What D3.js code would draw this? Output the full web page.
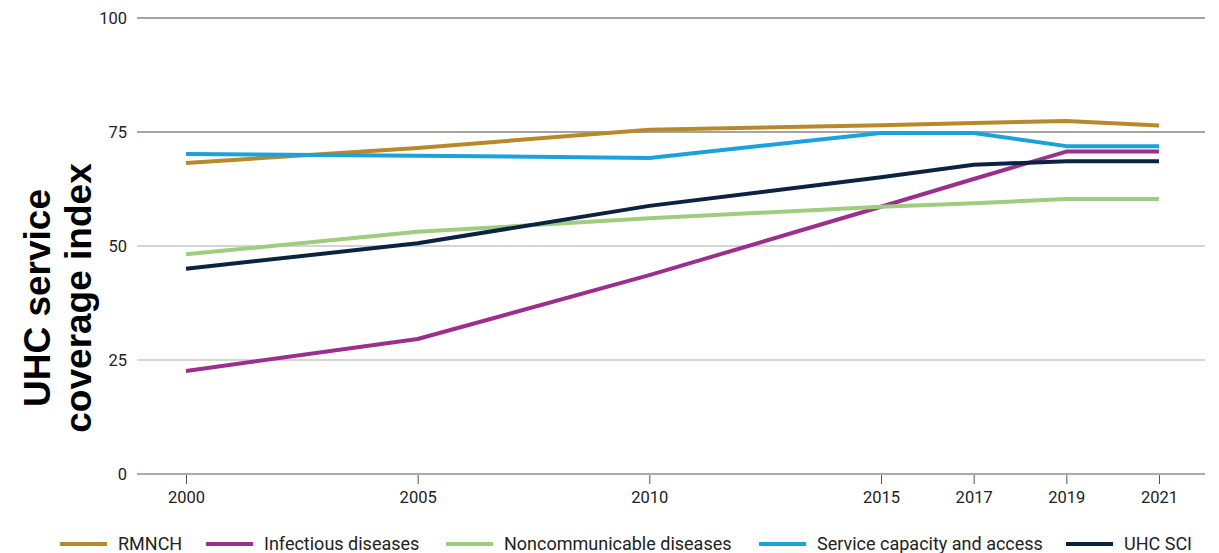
<!DOCTYPE html>
<html lang="en">

<head>
    <meta charset="UTF-8" />
    <title>UHC service coverage index</title>
    <script src="https://d3js.org/d3.v7.min.js"></script>
    <style>
        body {
            margin: 0;
            background: #fff;
        }

        .tick text {
            font-family: Roboto, sans-serif;
            font-size: 16.5px;
            fill: #222;
        }

        .legend text {
            font-family: Roboto, sans-serif;
            font-size: 18px;
            fill: #222;
        }

        .ytitle {
            font-family: "Liberation Sans", Arial, sans-serif;
            font-weight: bold;
            font-size: 37px;
            fill: #000;
        }
    </style>
</head>

<body>
    <svg width="1219" height="553"></svg>

    <script>
        const years = [2000, 2005, 2010, 2015, 2017, 2019, 2021];
        const yTicks = [0, 25, 50, 75, 100];

        const seriesNames = ["RMNCH", "Infectious diseases", "Noncommunicable diseases", "Service capacity and access", "UHC SCI"];
        const seriesColors = ["#b8892a", "#9b2f8e", "#9fcd80", "#1ca2da", "#0b2341"];

        const rmnch = [68.2, 71.5, 75.5, 76.5, 77.0, 77.4, 76.4];
        const infectious = [22.6, 29.6, 43.6, 58.6, 64.7, 70.7, 70.7];
        const noncommunicable = [48.2, 53.1, 56.1, 58.6, 59.4, 60.3, 60.3];
        const serviceCapacity = [70.2, 69.8, 69.3, 74.8, 74.8, 71.9, 71.9];
        const uhcSci = [45.0, 50.6, 58.8, 65.1, 67.8, 68.6, 68.6];

        const seriesValues = [rmnch, infectious, noncommunicable, serviceCapacity, uhcSci];

        const svg = d3.select("svg");

        const x = d3.scaleLinear().domain([2000, 2021]).range([186, 1159]);
        const y = d3.scaleLinear().domain([0, 100]).range([474, 18]);
        const gridLeft = 137, gridRight = 1205;

        // gridlines (upper ones are darker in the original)
        svg.append("g")
            .selectAll("line")
            .data(yTicks)
            .join("line")
            .attr("x1", gridLeft)
            .attr("x2", gridRight)
            .attr("y1", d => y(d))
            .attr("y2", d => y(d))
            .attr("stroke", d => d >= 75 ? "#4a4a4a" : "#ababab")
            .attr("stroke-width", d => d === 0 ? 2 : 1.2);

        // y tick labels
        svg.append("g")
            .attr("class", "tick")
            .selectAll("text")
            .data(yTicks)
            .join("text")
            .attr("x", 127)
            .attr("y", d => y(d))
            .attr("dy", "0.35em")
            .attr("text-anchor", "end")
            .text(d => d);

        // x axis ticks
        const xAxis = svg.append("g")
            .attr("transform", `translate(0,${y(0) + 1})`)
            .call(d3.axisBottom(x).tickValues(years).tickFormat(d3.format("d")).tickSize(9).tickPadding(7));
        xAxis.select(".domain").remove();
        xAxis.selectAll(".tick line").attr("stroke", "#555");

        // y axis title
        const title = svg.append("text")
            .attr("class", "ytitle")
            .attr("transform", "translate(50,298) rotate(-90)")
            .attr("text-anchor", "middle");
        title.append("tspan").attr("x", 0).attr("y", 0).text("UHC service");
        title.append("tspan").attr("x", 0).attr("y", 41).text("coverage index");

        // lines
        const line = d3.line()
            .x((d, i) => x(years[i]))
            .y(d => y(d));

        svg.append("g")
            .selectAll("path")
            .data(seriesValues)
            .join("path")
            .attr("fill", "none")
            .attr("stroke", (d, i) => seriesColors[i])
            .attr("stroke-width", 4)
            .attr("stroke-linejoin", "round")
            .attr("d", line);

        // legend
        const legendX = [60, 206, 446, 759, 1066];
        const legend = svg.append("g")
            .attr("class", "legend")
            .selectAll("g")
            .data(seriesNames)
            .join("g")
            .attr("transform", (d, i) => `translate(${legendX[i]},544)`);

        legend.append("line")
            .attr("x1", 0)
            .attr("x2", 47)
            .attr("stroke", (d, i) => seriesColors[i])
            .attr("stroke-width", 4);

        legend.append("text")
            .attr("x", 58)
            .attr("dy", "0.35em")
            .text(d => d);
    </script>
</body>

</html>
